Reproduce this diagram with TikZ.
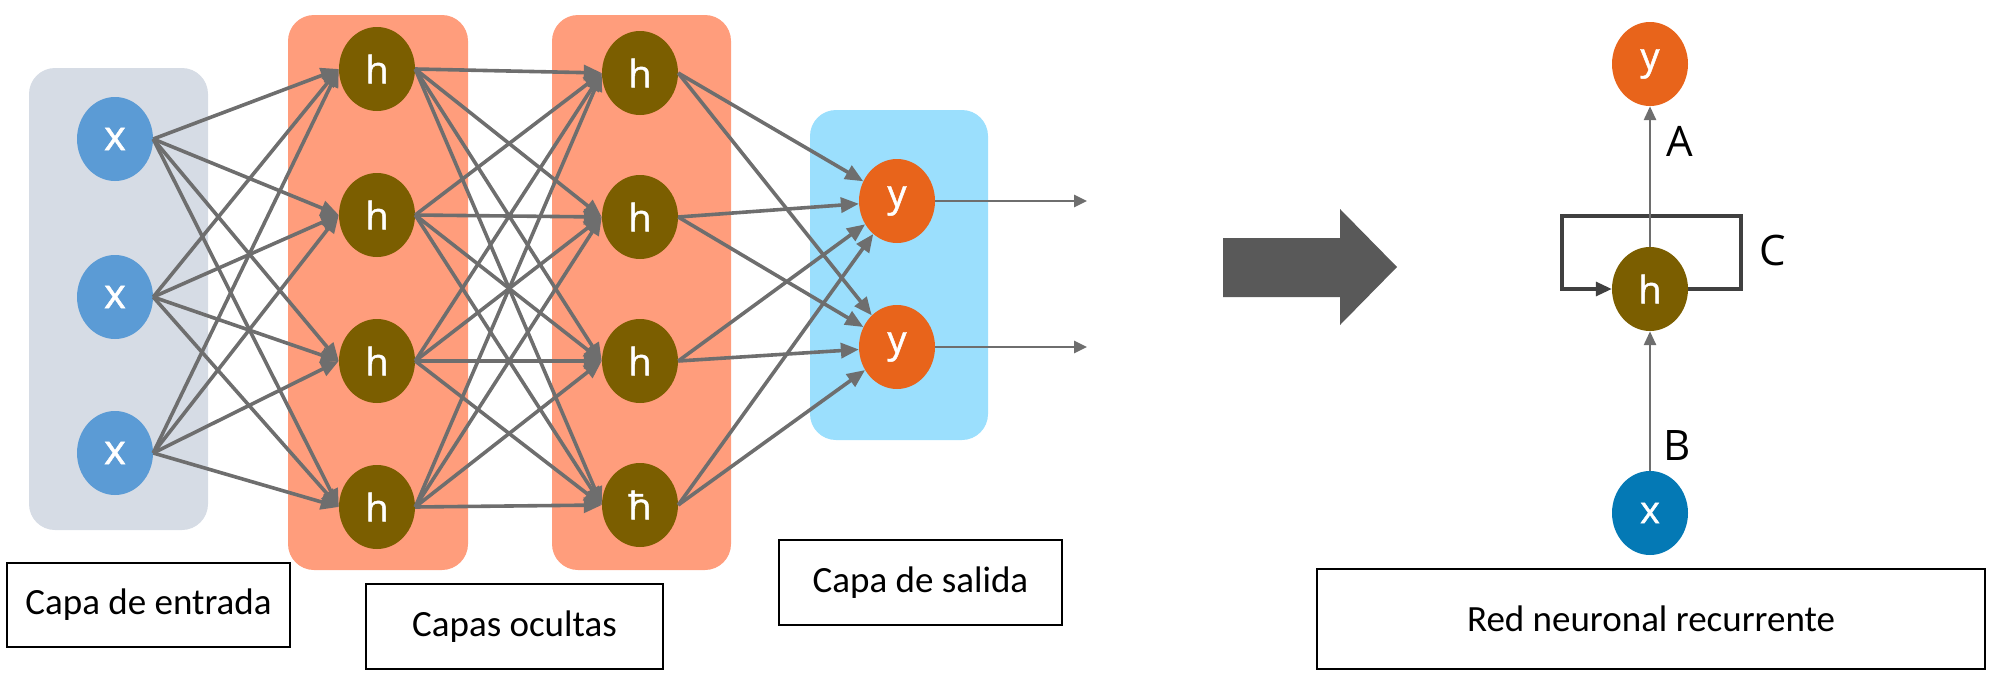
\documentclass[tikz,border=0pt]{standalone}
\usepackage{fontspec}
\setmainfont{Carlito}
\newfontfamily\nodefont[FakeBold=1.2]{Open Sans}
\newfontfamily\letterfont{Open Sans}
\usetikzlibrary{shapes.geometric,arrows.meta}
\definecolor{inbox}{HTML}{D6DCE5}
\definecolor{hidbox}{HTML}{FF9D7C}
\definecolor{outbox}{HTML}{9BDFFD}
\definecolor{xblue}{HTML}{5B9BD5}
\definecolor{xdark}{HTML}{0479B5}
\definecolor{hbrown}{HTML}{7B5E00}
\definecolor{yorange}{HTML}{E8641B}
\definecolor{edgegray}{HTML}{6E6E6E}
\definecolor{loopgray}{HTML}{404040}
\definecolor{bigarrow}{HTML}{595959}
\begin{document}
\begin{tikzpicture}[x=1pt,y=-1pt,
  neuron/.style={ellipse,minimum width=76pt,minimum height=84pt,inner sep=0pt,text=white,
    font=\nodefont\fontsize{38}{40}\selectfont},
  xn/.style={neuron,fill=xblue,font=\nodefont\fontsize{42}{44}\selectfont},
  xr/.style={neuron,fill=xdark,font=\nodefont\fontsize{38}{40}\selectfont},
  hn/.style={neuron,fill=hbrown},
  yn/.style={neuron,fill=yorange},
  layerbox/.style={rounded corners=26pt},
  conn/.style={draw=edgegray,line width=3.6pt,-{Triangle[length=18pt,width=15pt]}},
  outarrow/.style={draw=edgegray,line width=2.8pt,-{Triangle[length=13pt,width=12pt]}},
  rnnarrow/.style={draw=edgegray,line width=2.8pt,-{Triangle[length=14pt,width=12pt]}},
  looparrow/.style={draw=loopgray,line width=3.2pt,-{Triangle[length=16pt,width=14pt]}},
  textbox/.style={draw=black,line width=2.5pt,inner sep=0pt,font=\fontsize{37}{44}\selectfont},
  letter/.style={font=\letterfont\fontsize{42}{46}\selectfont,inner sep=0pt}
]
\useasboundingbox (0,0) rectangle (1992,680);

% layer boxes
\fill[inbox,layerbox] (29,68) rectangle (208,530);
\fill[hidbox,layerbox] (288,15) rectangle (468,570);
\fill[hidbox,layerbox] (552,15) rectangle (731,570);
\fill[outbox,layerbox] (810,110) rectangle (988,440);

% nodes
\node[xn] (x1) at (115,139) {x};
\node[xn] (x2) at (115,297) {x};
\node[xn] (x3) at (115,453) {x};
\node[hn] (ha1) at (377,69) {h};
\node[hn] (ha2) at (377,215) {h};
\node[hn] (ha3) at (377,361) {h};
\node[hn] (ha4) at (377,507) {h};
\node[hn] (hb1) at (640,73) {h};
\node[hn] (hb2) at (640,217) {h};
\node[hn] (hb3) at (640,361) {h};
\node[hn] (hb4) at (640,505) {ħ};
\node[yn] (y1) at (897,201) {y};
\node[yn] (y2) at (897,347) {y};
\coordinate (o1) at (1087,201);
\coordinate (o2) at (1087,347);

% connections
\foreach \i in {1,2,3}{
  \foreach \j in {1,2,3,4}{
    \draw[conn] (x\i.east) -- (ha\j.west);
  }
}
\foreach \i in {1,2,3,4}{
  \foreach \j in {1,2,3,4}{
    \draw[conn] (ha\i.east) -- (hb\j.west);
  }
}
\foreach \i in {1,2,3,4}{
  \foreach \j in {1,2}{
    \draw[conn] (hb\i.east) -- (y\j);
  }
}
\draw[outarrow] (y1.east) -- (o1);
\draw[outarrow] (y2.east) -- (o2);

% labels
\node[textbox,minimum width=283pt,minimum height=84pt] (lin) at (148.5,605) {Capa de entrada};
\node[textbox,minimum width=297pt,minimum height=85pt] (lhid) at (514.5,626.5) {Capas ocultas};
\node[textbox,minimum width=283pt,minimum height=85pt] (lout) at (920.5,582.5) {Capa de salida};

% big arrow
\fill[bigarrow] (1223,238) -- (1340,238) -- (1340,209) -- (1397,267) -- (1340,325) -- (1340,297) -- (1223,297) -- cycle;

% RNN
\node[yn] (ry) at (1650,64) {y};
\node[hn] (rh) at (1650,289) {h};
\node[xr] (rx) at (1650,513) {x};
\coordinate (lc1) at (1741,289);
\coordinate (lc2) at (1741,216);
\coordinate (lc3) at (1562,216);
\coordinate (lc4) at (1562,289);
\draw[looparrow] (rh.east) -- (lc1) -- (lc2) -- (lc3) -- (lc4) -- (rh.west);
\draw[rnnarrow] (rh.north) -- (ry.south);
\draw[rnnarrow] (rx.north) -- (rh.south);
\node[letter] (la) at (1680,141) {A};
\node[letter] (lb) at (1677,446) {B};
\node[letter] (lcc) at (1773,250) {C};

\node[textbox,minimum width=668pt,minimum height=100pt] (lrnn) at (1651,619) {Red neuronal recurrente};
\end{tikzpicture}
\end{document}
